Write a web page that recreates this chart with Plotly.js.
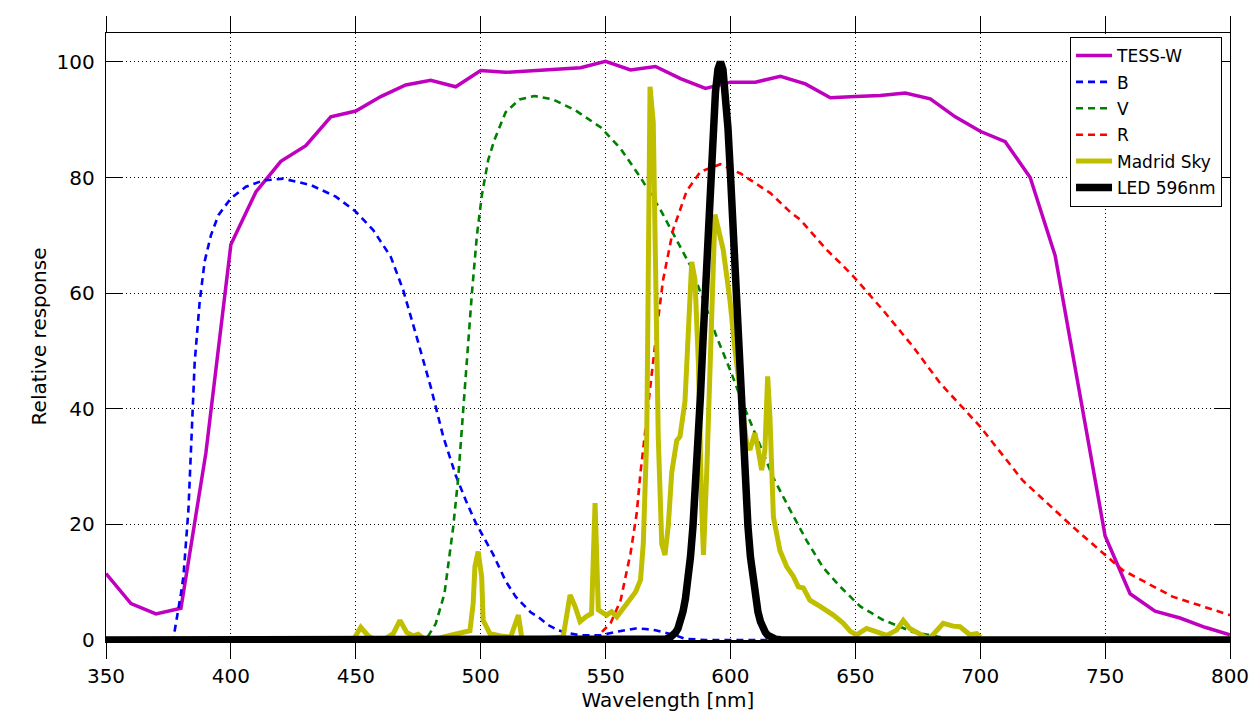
<!DOCTYPE html>
<html>
<head>
<meta charset="utf-8">
<script src="https://cdn.plot.ly/plotly-3.0.1.min.js"></script>
<style>html,body{margin:0;padding:0;background:#fff;}#chart{width:1257px;height:724px;}</style>
</head>
<body>
<div id="chart"></div>
<script>
// ---- data ----
const tessX = [350,360,370,380,390,400,410,420,430,440,450,460,470,480,490,500,510,520,530,540,550,560,570,580,590,600,610,620,630,640,650,660,670,680,690,700,710,720,730,740,750,760,770,780,790,800];
const tessY = [11.5,6.3,4.5,5.5,32.4,68.4,77.5,82.8,85.5,90.5,91.5,94,96,96.8,95.7,98.5,98.2,98.5,98.8,99,100.1,98.6,99.2,97.1,95.4,96.5,96.5,97.5,96.2,93.8,94,94.2,94.6,93.6,90.5,88,86.2,80,66.5,42,18,8,5,3.8,2.2,0.9];

const bX = [375,377,380,381,383,384.5,385.5,387.5,389.5,392,395,400,406,413,421,432,442,450,457,464,469,474,480,485,490,494,498,505,510,514,520,523,527,531,535,540,548,554,562,566,570,578,582,590,620];
const bY = [0,0.3,8,11,22.5,37,48,58.5,65.5,70,73.5,76.4,78.4,79.5,79.8,78.7,76.7,74.1,70.9,66.3,60.5,53,43.8,35.2,28.5,24.2,20.3,14.8,10.2,7.5,4.8,4,2.6,1.7,1.2,0.8,0.8,1.4,2.0,1.9,1.7,0.8,0.2,0,0];

const vX = [470,478,482,485.5,489,491,493,494.5,496.5,498.5,500.5,503,505.5,510,515.5,521.5,529,538,548,556,564,572,578.5,584,589,594.5,600,605,610.5,617,624,630.5,637,644,652,661,673,684,690];
const vY = [0,0,2.8,8,19.5,28,39.7,48.5,60,70,77,83,86.5,91.3,93.5,94.1,93.5,91.6,88.7,85,80,74.4,69,64.7,59,52.4,46.6,40.8,35.1,28.2,22.4,17.2,12.6,9.2,5.8,3.5,1.4,0.5,0];

const rX = [545,546.5,552,556,560,562.5,564,568,570.5,573,577,582.5,588,596,604,616,624,628,638.5,644,649,661,673,684,700,717,737,757,777,800];
const rY = [0,0.5,2.9,6.8,15,22,29,44.4,53.6,62.2,70.9,77.7,81,82.3,80.7,77.3,74,72.7,67.5,65.2,63,57.1,50.8,44.4,36.9,27.6,19.6,12.1,7.5,4.3];

const skyX = [449,450,452,455,458,462,465,467.7,470.4,473,475,477,481,486,491.7,495.7,497,497.7,499,500.4,501,503.7,508,512,513.7,515.1,516.4,518,533,535.8,537.8,539.8,542.4,544.4,545.8,547.1,550.4,552.4,554.5,558.5,562,564,565.1,566.5,567.1,567.8,569.1,569.8,571.1,572.5,573.8,575.1,576.5,578.5,579.8,581.8,583.2,584.5,585.8,587.2,588.5,589.2,590.5,591.8,593.2,593.8,597.1,599.8,601.8,604.5,606.5,607.8,609.8,611.1,612.5,613.8,614.9,615.8,617.2,619.8,622.5,625.2,627.2,629.2,631.8,635.9,641.2,645.2,648,650.5,654.5,658,662.5,666.5,669.2,671.8,678.5,680,685.2,689.2,691.9,695.9,698.6,700];
const skyY = [0,0.8,2.2,0.7,0,0.3,1.1,3.4,1.3,0.7,1.0,0.3,0,0.6,1.1,1.6,6.3,12.7,15.3,10.9,3.4,1.1,0.7,0.5,2.6,4.3,0.5,0,0.5,7.8,5.8,3.2,4.1,4.6,23.7,5.2,4.3,4.9,4.0,6.4,8.3,10.4,16.6,35.2,66,95.7,89.5,66,35.1,16.6,14.7,19.7,29,34.5,35.2,41.3,53.7,65.4,62.3,47.5,22.7,14.7,29,47.5,70,73.6,67.5,58.8,50.2,41.5,34,32.9,35.8,32.9,29.4,32.9,45.6,38.7,21.3,15.5,12.7,11,9.2,9,6.9,5.8,4.3,2.9,1.5,0.9,2.0,1.5,0.8,1.7,3.4,2.0,0.4,0.4,2.9,2.4,2.3,0.9,1.1,0.5];

const ledX = [350,570,572,574,576,577,578,579,580,581,582,583,584,585,586,587,588,589,590,591,592,593,594,595,596,597,598,599,600,601,602,603,604,605,606,607,608,609,610,611,612,613,614,615,616,617,618,620,622,800];
const ledY = [0,0,0.04,0.15,0.5,0.8,1.3,2.0,3.2,4.9,7.2,10.3,14.4,19.7,26.1,33.7,42.3,51.7,61.6,71.5,80.6,88.6,94.8,98.7,100,98.7,94.8,88.6,80.6,71.5,61.6,51.7,42.3,33.7,26.1,19.7,14.4,10.3,7.2,4.9,3.2,2.0,1.3,0.8,0.5,0.3,0.15,0.04,0,0];

const xTicks = [350,400,450,500,550,600,650,700,750,800];
const yTicks = [0,20,40,60,80,100];

const FONT = 'DejaVu Sans, Liberation Sans, sans-serif';
const dashStyle = '7px,5px';

const traces = [
  {x: tessX, y: tessY, name: 'TESS-W', line: {color: '#bf00bf', width: 3.5}},
  {x: bX, y: bY, name: 'B', line: {color: '#0000ff', width: 2.6, dash: dashStyle}},
  {x: vX, y: vY, name: 'V', line: {color: '#008000', width: 2.6, dash: dashStyle}},
  {x: rX, y: rY, name: 'R', line: {color: '#ff0000', width: 2.6, dash: dashStyle}},
  {x: skyX, y: skyY, name: 'Madrid Sky', line: {color: '#bfbf00', width: 5}},
  {x: ledX, y: ledY, name: 'LED 596nm', xaxis: 'x2', line: {color: '#000000', width: 7.5}}
].map((t, i) => Object.assign({type: 'scatter', mode: 'lines', legendgroup: 'g' + i, hoverinfo: 'skip'}, t));

const layout = {
  width: 1257, height: 724,
  margin: {l: 106, r: 27, t: 33, b: 84, pad: 0},
  paper_bgcolor: '#fff', plot_bgcolor: '#fff',
  font: {family: FONT, color: '#000', size: 20},
  showlegend: true,
  legend: {
    x: 0.9929, y: 0.9935, xanchor: 'right', yanchor: 'top',
    bgcolor: '#fff', bordercolor: '#000', borderwidth: 1,
    font: {family: FONT, size: 17, color: '#000'},
    tracegroupgap: 1.3, itemwidth: 36
  },
  xaxis: {
    range: [350, 800], tickvals: xTicks, ticktext: xTicks.map(String),
    ticks: 'outside', ticklen: 16, tickwidth: 1, tickcolor: '#000',
    showline: true, linecolor: '#000', linewidth: 3, mirror: false,
    showgrid: true, gridcolor: '#000', gridwidth: 1, griddash: '1px,3px',
    zeroline: false, automargin: false,
    tickfont: {family: FONT, size: 20, color: '#000'},
    title: {text: 'Wavelength [nm]', font: {family: FONT, size: 20, color: '#000'}, standoff: 6}
  },
  xaxis2: {
    overlaying: 'x', side: 'top', matches: 'x', range: [350, 800], tickvals: xTicks,
    ticks: 'outside', ticklen: 16, tickwidth: 1, tickcolor: '#000',
    showticklabels: false, showline: true, linecolor: '#000', linewidth: 1.2,
    showgrid: false, zeroline: false, automargin: false
  },
  yaxis: {
    range: [0, 105], tickvals: yTicks, ticktext: yTicks.map(String),
    ticks: 'inside', ticklen: 16, tickwidth: 1, tickcolor: '#000',
    showline: true, linecolor: '#000', linewidth: 1.2, mirror: 'ticks',
    showgrid: true, gridcolor: '#000', gridwidth: 1, griddash: '1px,3px',
    zeroline: false, automargin: false, ticklabelstandoff: 6,
    tickfont: {family: FONT, size: 20, color: '#000'},
    title: {text: 'Relative response', font: {family: FONT, size: 20, color: '#000'}, standoff: 4}
  }
};

Plotly.newPlot('chart', traces, layout, {displayModeBar: false, staticPlot: true});
</script>
</body>
</html>
